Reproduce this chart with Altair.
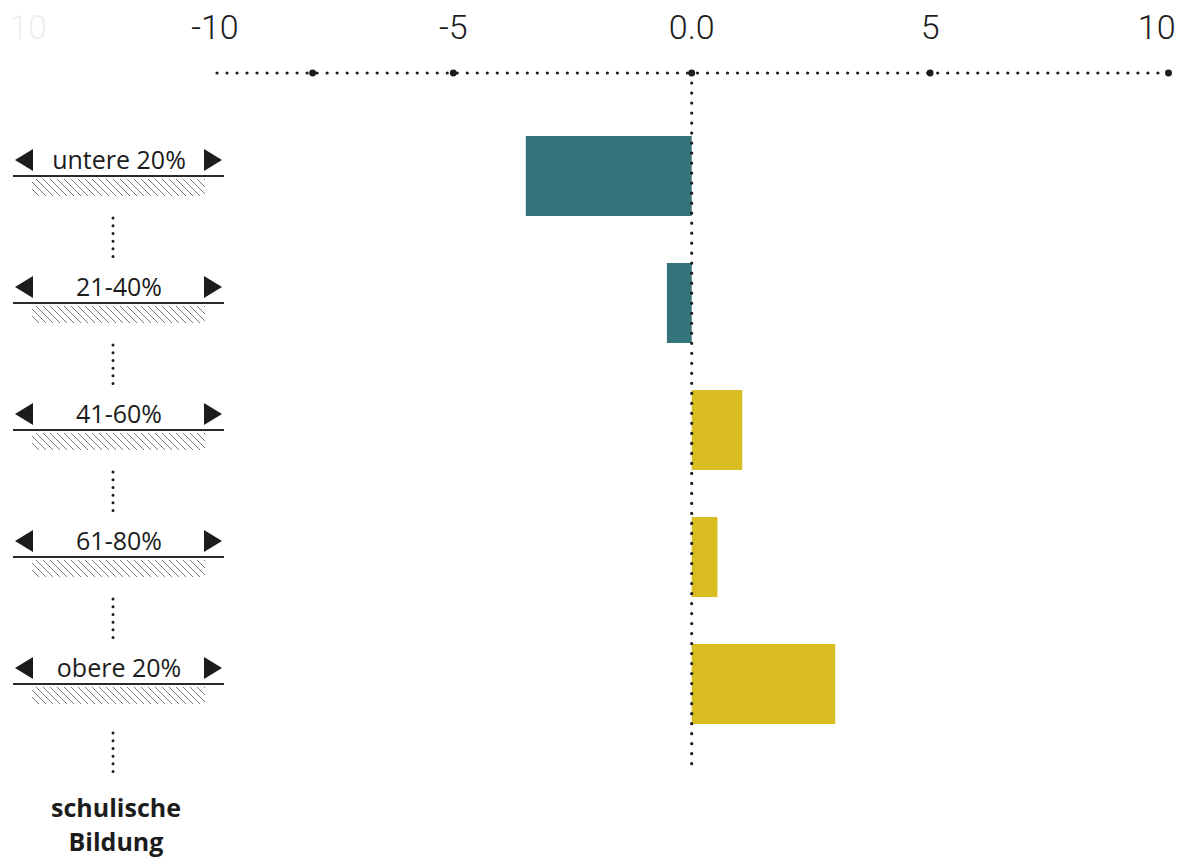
import altair as alt
import pandas as pd
import numpy as np

# ---------------- data ----------------
categories = ["untere 20%", "21-40%", "41-60%", "61-80%", "obere 20%"]
values = [-3.48, -0.52, 1.06, 0.54, 3.01]
tick_values = [-10, -5, 0, 5]
tick_labels = ["-10", "-5", "0.0", "5"]
last_tick_value = 10
last_tick_label = "10"
tick_dot_values = [-7.95, -5, 0, 5, 10]
footer_lines = ["schulische", "Bildung"]

# ---------------- styling / geometry ----------------
TEAL = "#33757A"
GOLD = "#D9BC20"
INK = "#1c1c1c"
NUM_FONT = "Roboto"
TXT_FONT = "Open Sans"

W, H = 1169, 850
PAGE = 8
PX_PER_UNIT = 47.68
ZERO_PX = 691.7            # page x of value 0
ROW_PX = 127.0
ROW0_PX = 176.0            # page y of first row line

XMIN = (PAGE - ZERO_PX) / PX_PER_UNIT
XMAX = (PAGE + W - ZERO_PX) / PX_PER_UNIT
YMIN = (PAGE - ROW0_PX) / ROW_PX
YMAX = (PAGE + H - ROW0_PX) / ROW_PX


def ux(px):
    """page x pixel -> x data units (for decorations)"""
    return (px - ZERO_PX) / PX_PER_UNIT


def uy(px):
    """page y pixel -> row units (for decorations)"""
    return (px - ROW0_PX) / ROW_PX


xs = alt.Scale(domain=[XMIN, XMAX], nice=False, zero=False)
ys = alt.Scale(domain=[YMIN, YMAX], nice=False, zero=False, reverse=True)


def X(f="x"):
    return alt.X(f"{f}:Q", scale=xs, axis=None)


def Y(f="y"):
    return alt.Y(f"{f}:Q", scale=ys, axis=None)


AXIS_Y = uy(73)
LABEL_Y = uy(29)
HALF_BAR = 40 / ROW_PX

# ---------------- bars ----------------
bars_df = pd.DataFrame({
    "cat": categories,
    "value": values,
    "row": list(range(len(categories))),
})
bars_df["zero"] = 0.0
bars_df["y"] = bars_df["row"] - HALF_BAR
bars_df["y2"] = bars_df["row"] + HALF_BAR
bars_df["sign"] = np.where(bars_df["value"] < 0, "neg", "pos")

bars = alt.Chart(bars_df).mark_rect().encode(
    x=X("zero"), x2="value:Q", y=Y("y"), y2="y2:Q",
    color=alt.Color("sign:N", scale=alt.Scale(domain=["neg", "pos"], range=[TEAL, GOLD]), legend=None),
)

# ---------------- top axis ----------------
axis_line = alt.Chart(pd.DataFrame({"x": [ux(217)], "x2": [10.0], "y": [AXIS_Y]})).mark_rule(
    color=INK, strokeWidth=3.2, strokeDash=[0.01, 10], strokeCap="round"
).encode(x=X(), x2="x2:Q", y=Y())

zero_line = alt.Chart(pd.DataFrame({"x": [0.0], "y": [AXIS_Y], "y2": [uy(773)]})).mark_rule(
    color=INK, strokeWidth=3.2, strokeDash=[0.01, 10], strokeCap="round"
).encode(x=X(), y=Y(), y2="y2:Q")

tick_dots = alt.Chart(pd.DataFrame({"x": tick_dot_values, "y": [AXIS_Y] * len(tick_dot_values)})).mark_point(
    filled=True, shape="circle", size=48, color=INK, opacity=1
).encode(x=X(), y=Y())

tick_text = alt.Chart(pd.DataFrame({"x": tick_values, "label": tick_labels, "y": [LABEL_Y] * len(tick_values)})).mark_text(
    font=NUM_FONT, fontSize=34, fontWeight=300, color=INK, baseline="middle", align="center"
).encode(x=X(), y=Y(), text="label:N")

# the right-most label sits against the page edge: right-aligned so it stays visible
tick_text_last = alt.Chart(pd.DataFrame({"x": [last_tick_value], "label": [last_tick_label], "y": [LABEL_Y]})).mark_text(
    font=NUM_FONT, fontSize=34, fontWeight=300, color=INK, baseline="middle", align="right", dx=7
).encode(x=X(), y=Y(), text="label:N")

ghost = alt.Chart(pd.DataFrame({"x": [ux(28)], "y": [LABEL_Y], "label": ["10"]})).mark_text(
    font=NUM_FONT, fontSize=34, fontWeight=300, color="#eeeeee", baseline="middle", align="center"
).encode(x=X(), y=Y(), text="label:N")

# ---------------- left-side category legend ----------------
rows = list(range(len(categories)))
lab_df = pd.DataFrame({"x": [ux(119)] * len(rows), "y": [r - 7 / ROW_PX for r in rows], "label": categories})
row_labels = alt.Chart(lab_df).mark_text(
    font=TXT_FONT, fontSize=25, color=INK, baseline="alphabetic", align="center"
).encode(x=X(), y=Y(), text="label:N")

tri_left = alt.Chart(pd.DataFrame({"x": [ux(24)] * len(rows), "y": [r - 16 / ROW_PX for r in rows]})).mark_point(
    filled=True, shape="M0.82,-1L-0.82,0L0.82,1Z", size=484, color=INK, opacity=1
).encode(x=X(), y=Y())
tri_right = alt.Chart(pd.DataFrame({"x": [ux(213)] * len(rows), "y": [r - 16 / ROW_PX for r in rows]})).mark_point(
    filled=True, shape="M-0.82,-1L0.82,0L-0.82,1Z", size=484, color=INK, opacity=1
).encode(x=X(), y=Y())

base_lines = alt.Chart(pd.DataFrame({"x": [ux(13)] * len(rows), "x2": [ux(224)] * len(rows), "y": rows})).mark_rule(
    color="#2a2a2a", strokeWidth=2
).encode(x=X(), x2="x2:Q", y=Y())

# hatching below each base line
hx0, hx1, htop, hbot, hstep = 32.0, 205.0, 3.0, 20.0, 7.0
hh = hbot - htop
segs = []
for r in rows:
    for x0 in np.arange(hx0 - hh, hx1, hstep):
        xa, ya = x0, htop
        xb, yb = x0 + hh, hbot
        if xa < hx0:
            ya = htop + (hx0 - xa)
            xa = hx0
        if xb > hx1:
            yb = htop + (hx1 - x0)
            xb = hx1
        if xb - xa < 1:
            continue
        segs.append({"x": ux(xa), "x2": ux(xb), "y": r + ya / ROW_PX, "y2": r + yb / ROW_PX})
hatch = alt.Chart(pd.DataFrame(segs)).mark_rule(color="#7a7a7a", strokeWidth=1).encode(
    x=X(), x2="x2:Q", y=Y(), y2="y2:Q"
)

conn = []
for r in rows:
    off = 49 if r == rows[-1] else 42
    conn.append({"x": ux(113), "y": r + off / ROW_PX, "y2": r + (off + 39) / ROW_PX})
connectors = alt.Chart(pd.DataFrame(conn)).mark_rule(
    color=INK, strokeWidth=3, strokeDash=[0.01, 7.7], strokeCap="round"
).encode(x=X(), y=Y(), y2="y2:Q")

footer = alt.Chart(pd.DataFrame({"x": [ux(116)] * 2, "y": [uy(817), uy(851)], "label": footer_lines})).mark_text(
    font=TXT_FONT, fontSize=25, fontWeight="bold", color=INK, baseline="alphabetic", align="center"
).encode(x=X(), y=Y(), text="label:N")

chart = alt.layer(
    ghost, hatch, base_lines, tri_left, tri_right, row_labels, connectors, footer,
    bars, axis_line, zero_line, tick_dots, tick_text, tick_text_last,
).properties(
    width=W, height=H, padding=0,
    autosize=alt.AutoSizeParams(type="none"),
    background="white",
).configure_view(stroke=None)

chart.save("out.html", embed_options={"renderer": "svg", "actions": False})
